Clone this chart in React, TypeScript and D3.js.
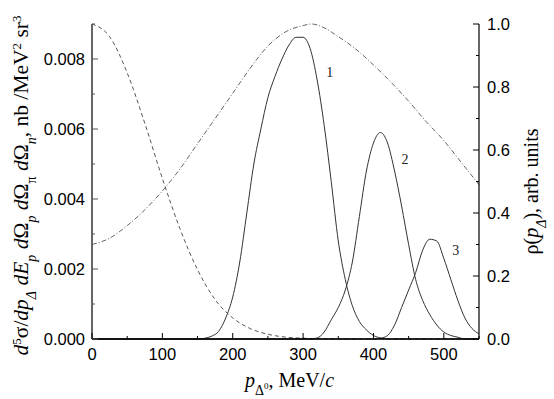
import React from "react";
import * as d3 from "d3";

// momentum grid (MeV/c) and values
const xTicks = [0, 100, 200, 300, 400, 500];
const xMinor = [50, 150, 250, 350, 450, 550];
const leftTicks = [0, 0.002, 0.004, 0.006, 0.008];
const leftMinor = [0.001, 0.003, 0.005, 0.007, 0.009];
const rightTicks = [0, 0.2, 0.4, 0.6, 0.8, 1.0];
const rightMinor = [0.1, 0.3, 0.5, 0.7, 0.9];

// dashed curve (right axis)
const dashP = [0, 25, 50, 75, 100, 125, 150, 175, 200, 225, 250, 275, 300, 325, 350, 400, 450, 500, 550];
const dashV = [1.0, 0.96, 0.845, 0.685, 0.51, 0.35, 0.22, 0.125, 0.067, 0.033, 0.015, 0.006, 0.0025, 0.001, 0.0004, 0, 0, 0, 0];

// dash-dot curve rho(p), right axis
const rhoP = [0, 25, 50, 75, 100, 125, 150, 175, 200, 225, 250, 275, 300, 312, 325, 350, 375, 400, 425, 450, 475, 500, 525, 550];
const rhoV = [0.3, 0.32, 0.36, 0.41, 0.47, 0.54, 0.62, 0.7, 0.78, 0.86, 0.93, 0.975, 0.995, 1.0, 0.993, 0.96, 0.92, 0.87, 0.815, 0.755, 0.69, 0.63, 0.56, 0.49];

// cross sections, left axis
const c1P = [0, 150, 160, 170, 180, 190, 200, 210, 220, 230, 240, 250, 260, 270, 280, 290, 300, 310, 320, 330, 340, 350, 360, 370, 380, 390, 400, 410, 420, 550];
const c1V = [0, 0, 0.00002, 0.00008, 0.00022, 0.0006, 0.0012, 0.0022, 0.0036, 0.005, 0.006, 0.0069, 0.0075, 0.008, 0.0084, 0.00862, 0.00862, 0.0083, 0.0074, 0.0061, 0.0045, 0.0028, 0.0017, 0.00095, 0.0005, 0.00026, 0.0001, 0.00003, 0, 0];

const c2P = [0, 310, 320, 330, 340, 350, 360, 370, 380, 390, 400, 410, 420, 430, 440, 450, 460, 470, 480, 490, 500, 510, 520, 530, 550];
const c2V = [0, 0, 0.00003, 0.0002, 0.00055, 0.0009, 0.0014, 0.0022, 0.0035, 0.0048, 0.0056, 0.0059, 0.0056, 0.0048, 0.0038, 0.0027, 0.0017, 0.0011, 0.0007, 0.0004, 0.0002, 0.0001, 0.00005, 0, 0];

const c3P = [0, 400, 410, 420, 430, 440, 450, 460, 470, 480, 490, 500, 510, 520, 530, 540, 550];
const c3V = [0, 0, 0.00002, 0.0001, 0.0004, 0.0009, 0.0014, 0.0019, 0.00254, 0.00285, 0.0028, 0.0023, 0.0017, 0.0011, 0.0006, 0.0003, 0.00015];

const curveLabels = ["1", "2", "3"];
const curveLabelAt: [number, number][] = [
  [338, 0.0075],
  [445, 0.005],
  [517, 0.0024],
];

const W = 554;
const H = 399;
const left = 92;
const right = 479;
const top = 24;
const bottom = 339;

const sans = "'Liberation Sans', Arial, sans-serif";
const serif = "'Liberation Serif', 'Times New Roman', serif";

export default function App() {
  const x = d3.scaleLinear().domain([0, 550]).range([left, right]);
  const yL = d3.scaleLinear().domain([0, 0.009]).range([bottom, top]);
  const yR = d3.scaleLinear().domain([0, 1]).range([bottom, top]);

  const lineL = d3
    .line<[number, number]>()
    .x((d) => x(d[0]))
    .y((d) => yL(d[1]))
    .curve(d3.curveMonotoneX);
  const lineR = d3
    .line<[number, number]>()
    .x((d) => x(d[0]))
    .y((d) => yR(d[1]))
    .curve(d3.curveMonotoneX);

  const zip = (p: number[], v: number[]) => p.map((d, i) => [d, v[i]] as [number, number]);

  const sub = { baselineShift: "sub", fontSize: 14 } as React.CSSProperties;
  const sup = { baselineShift: "super", fontSize: 13 } as React.CSSProperties;

  return (
    <svg
      width={W}
      height={H}
      style={{ position: "absolute", left: 0, top: 0, background: "#fff" }}
    >
      {/* curves */}
      <path d={lineR(zip(rhoP, rhoV)) || ""} fill="none" stroke="#555" strokeWidth={0.9} strokeDasharray="5 2 1 2" />
      <path d={lineR(zip(dashP, dashV)) || ""} fill="none" stroke="#444" strokeWidth={0.9} strokeDasharray="4 3" />
      <path d={lineL(zip(c1P, c1V)) || ""} fill="none" stroke="#333" strokeWidth={1} />
      <path d={lineL(zip(c2P, c2V)) || ""} fill="none" stroke="#333" strokeWidth={1} />
      <path d={lineL(zip(c3P, c3V)) || ""} fill="none" stroke="#333" strokeWidth={1} />

      {curveLabels.map((t, i) => (
        <text
          key={t}
          x={x(curveLabelAt[i][0])}
          y={yL(curveLabelAt[i][1])}
          fontFamily={serif}
          fontSize={14}
          textAnchor="middle"
          fill="#222"
        >
          {t}
        </text>
      ))}

      {/* axes lines */}
      <line x1={left} x2={left} y1={top} y2={bottom} stroke="#666" strokeWidth={2} />
      <line x1={right} x2={right} y1={top} y2={bottom} stroke="#000" strokeWidth={1.2} />
      <line x1={left} x2={right} y1={bottom} y2={bottom} stroke="#000" strokeWidth={1.6} />

      {/* bottom ticks */}
      {xTicks.map((t) => (
        <g key={"xt" + t}>
          <line x1={x(t)} x2={x(t)} y1={bottom} y2={bottom - 6} stroke="#000" />
          <text x={x(t)} y={360} fontFamily={sans} fontSize={16.5} textAnchor="middle">
            {t}
          </text>
        </g>
      ))}
      {xMinor.map((t) => (
        <line key={"xm" + t} x1={x(t)} x2={x(t)} y1={bottom} y2={bottom - 3} stroke="#000" />
      ))}

      {/* left ticks */}
      {leftTicks.map((t) => (
        <g key={"lt" + t}>
          <line x1={left} x2={left + 6} y1={yL(t)} y2={yL(t)} stroke="#555" />
          <text x={85} y={yL(t) + 6} fontFamily={sans} fontSize={16.5} textAnchor="end">
            {d3.format(".3f")(t)}
          </text>
        </g>
      ))}
      {leftMinor.map((t) => (
        <line key={"lm" + t} x1={left} x2={left + 3} y1={yL(t)} y2={yL(t)} stroke="#555" />
      ))}

      {/* right ticks */}
      {rightTicks.map((t) => (
        <g key={"rt" + t}>
          <line x1={right} x2={right - 6} y1={yR(t)} y2={yR(t)} stroke="#000" />
          <text x={487} y={yR(t) + 6} fontFamily={sans} fontSize={16.5} textAnchor="start">
            {d3.format(".1f")(t)}
          </text>
        </g>
      ))}
      {rightMinor.map((t) => (
        <line key={"rm" + t} x1={right} x2={right - 3} y1={yR(t)} y2={yR(t)} stroke="#000" />
      ))}

      {/* axis titles */}
      <text
        x={(left + right) / 2 + 4}
        y={387}
        fontFamily={serif}
        fontSize={20}
        textAnchor="middle"
      >
        <tspan fontStyle="italic">p</tspan>
        <tspan style={sub}>Δ</tspan>
        <tspan style={{ baselineShift: "-2", fontSize: 9 } as React.CSSProperties}>0</tspan>
        <tspan>, MeV/</tspan>
        <tspan fontStyle="italic">c</tspan>
      </text>

      <text
        transform={`translate(28,${(top + bottom) / 2 + 4}) rotate(-90)`}
        fontFamily={serif}
        fontSize={21.5}
        textAnchor="middle"
      >
        <tspan fontStyle="italic">d</tspan>
        <tspan style={sup}>5</tspan>
        <tspan>σ/</tspan>
        <tspan fontStyle="italic">dp</tspan>
        <tspan style={sub} fontStyle="italic">Δ</tspan>
        <tspan fontStyle="italic"> dE</tspan>
        <tspan style={sub} fontStyle="italic">p</tspan>
        <tspan fontStyle="italic"> d</tspan>
        <tspan>Ω</tspan>
        <tspan style={sub} fontStyle="italic">p</tspan>
        <tspan fontStyle="italic"> d</tspan>
        <tspan>Ω</tspan>
        <tspan style={sub}>π</tspan>
        <tspan fontStyle="italic"> d</tspan>
        <tspan>Ω</tspan>
        <tspan style={sub} fontStyle="italic">n</tspan>
        <tspan>, nb /MeV</tspan>
        <tspan style={sup}>2</tspan>
        <tspan> sr</tspan>
        <tspan style={sup}>3</tspan>
      </text>

      <text
        transform={`translate(538,${(top + bottom) / 2 + 10}) rotate(-90)`}
        fontFamily={serif}
        fontSize={20}
        textAnchor="middle"
      >
        <tspan>ρ(</tspan>
        <tspan fontStyle="italic">p</tspan>
        <tspan style={sub} fontStyle="italic">Δ</tspan>
        <tspan>), arb. units</tspan>
      </text>
    </svg>
  );
}
